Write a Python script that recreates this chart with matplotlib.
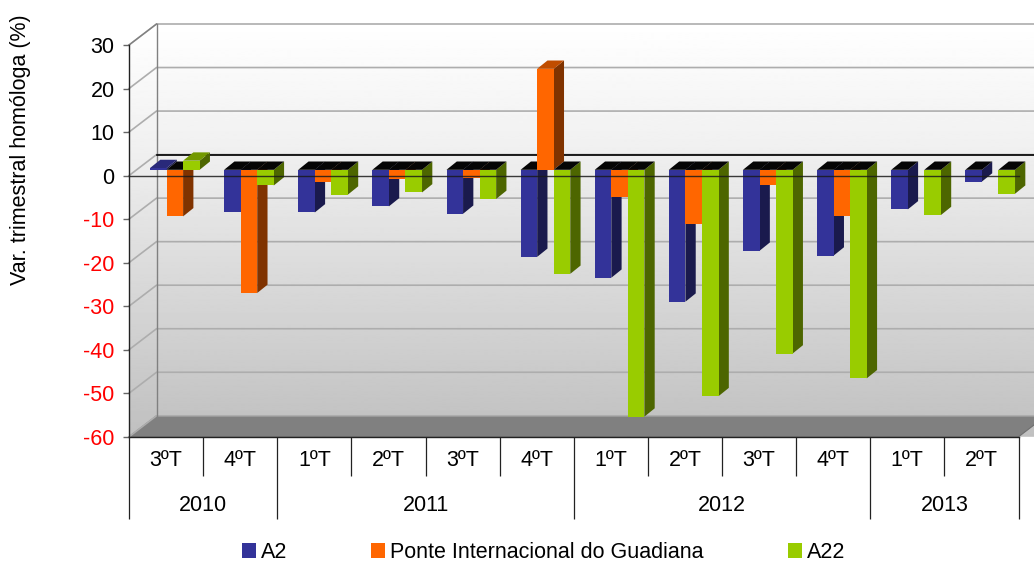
import numpy as np
import matplotlib
matplotlib.use("Agg")
import matplotlib.pyplot as plt
from matplotlib.patches import Polygon

plt.rcParams['font.family'] = ['Liberation Sans', 'DejaVu Sans']

quarters = ['3ºT', '4ºT', '1ºT', '2ºT', '3ºT', '4ºT', '1ºT', '2ºT', '3ºT', '4ºT', '1ºT', '2ºT']
years = ['2010', '2011', '2012', '2013']
year_counts = [2, 4, 4, 2]
a2 = [0.4, -9.6, -9.8, -8.4, -10.1, -20.0, -24.8, -30.3, -18.6, -19.7, -9.1, -2.7]
ponte = [-10.7, -28.3, -2.9, -2.1, -1.9, 23.2, -6.2, -12.4, -3.5, -10.6, np.nan, np.nan]
a22 = [2.1, -3.6, -5.7, -5.2, -6.7, -23.9, -56.7, -52.0, -42.2, -47.9, -10.4, -5.5]
series_names = ['A2', 'Ponte Internacional do Guadiana', 'A22']
front_colors = ['#333399', '#FF6600', '#99CC00']
side_colors = ['#1A1A4D', '#803300', '#4D6600']
top_colors = ['#29297A', '#C04D00', '#739900']

W, H = 1034, 561
FS = 15.5
fig = plt.figure(figsize=(W / 100, H / 100), dpi=100, facecolor='white')
L, R, T, B = 129.0, 1018.5, 45.0, 436.8
ax = fig.add_axes([L / W, 1 - B / H, (R - L) / W, (B - T) / H])
ax.set_xlim(0, 12)
ax.set_ylim(-60, 30)
ax.patch.set_visible(False)

ux = (R - L) / 12          # px per category
uy = (B - T) / 90          # px per percent
DX, DY = 27.5 / ux, 21.0 / uy   # wall depth in data units


def px(p):
    return (p - L) / ux


# walls
grad = np.interp(np.linspace(0, 1, 400), [0, 0.3, 0.55, 1], [255, 240, 222, 192])[:, None]
extent = (0, 12 + DX + 1, -60, 30 + DY)
wall = ax.imshow(grad, extent=extent, aspect='auto', cmap='gray', vmin=0, vmax=255,
                 zorder=0, interpolation='bilinear')
wall.set_clip_path(Polygon([(0, -60), (0, 30), (DX, 30 + DY), (14, 30 + DY), (14, -60)],
                           transform=ax.transData))
wall.set_clip_box(fig.bbox)
ax.set_xlim(0, 12)
ax.set_ylim(-60, 30)

# floor
ax.add_patch(Polygon([(0, -60), (DX, -60 + DY), (12 + DX, -60 + DY), (12, -60)],
                     facecolor='#808080', edgecolor='#6e6e6e', lw=0.8, zorder=1, clip_on=False))

# gridlines
for v in np.arange(-60, 31, 10):
    ax.plot([0, DX, 12 + DX], [v, v + DY, v + DY], color='#ADADAD', lw=1.2, zorder=1, clip_on=False,
            solid_joinstyle='miter')
ax.plot([DX, DX], [-60 + DY, 30 + DY], color='#808080', lw=1.0, zorder=1, clip_on=False)
ax.plot([0, DX], [30, 30 + DY], color='#808080', lw=1.0, zorder=1, clip_on=False)
ax.plot([DX, 12 + DX], [DY, DY], color='black', lw=1.2, zorder=2, clip_on=False)

# bars
bar_w = 16.55 / ux
start = px(150.0)
y0 = (175.5 - 169.7) / uy
ddx, ddy = 10.3 / ux, 8.3 / uy
for i in range(12):
    for s, vals in enumerate([a2, ponte, a22]):
        v = vals[i]
        if np.isnan(v):
            continue
        x0 = i + start + s * bar_w
        x1 = x0 + bar_w
        lo, hi = y0 + min(v, 0), y0 + max(v, 0)
        z = 3 + 0.01 * (i * 3 + s)
        ax.add_patch(Polygon([(x1, lo), (x1 + ddx, lo + ddy), (x1 + ddx, hi + ddy), (x1, hi)],
                             facecolor=side_colors[s], edgecolor='none', zorder=z, clip_on=False))
        ax.add_patch(Polygon([(x0, hi), (x0 + ddx, hi + ddy), (x1 + ddx, hi + ddy), (x1, hi)],
                             facecolor=top_colors[s] if v > 0 else '#050505',
                             edgecolor='none', zorder=z, clip_on=False))
        ax.bar(x0, v, bar_w, bottom=y0, align='edge', color=front_colors[s], zorder=z + 0.001,
               clip_on=False, linewidth=0)

# front zero line
ax.plot([0, 12], [0, 0], color='#1a1a1a', lw=1.0, zorder=6, clip_on=False, alpha=0.85)

# axes
for side in ['top', 'right']:
    ax.spines[side].set_visible(False)
for side in ['left', 'bottom']:
    ax.spines[side].set_linewidth(1.0)
    ax.spines[side].set_color('#222222')
    ax.spines[side].set_zorder(7)

yt = np.arange(-60, 31, 10)
ax.set_yticks(yt)
ax.set_yticklabels([str(v) for v in yt], fontsize=FS)
ax.tick_params(axis='y', length=4.3, width=1.0, color='#666666', pad=6)
for lab, v in zip(ax.get_yticklabels(), yt):
    lab.set_color('#FF0000' if v < 0 else 'black')

bounds = np.cumsum([0] + year_counts)
ax.set_xticks(bounds)
ax.set_xticklabels([])
ax.set_xticks(np.arange(13), minor=True)
ax.tick_params(axis='x', which='major', length=59, width=0.9, color='#222222')
ax.tick_params(axis='x', which='minor', length=28, width=0.9, color='#222222')

trans = ax.get_xaxis_transform()
for i, q in enumerate(quarters):
    ax.text(i + 0.5, -(460.5 - B) / (B - T), q, transform=trans, ha='center', va='center',
            fontsize=FS, color='black')
for j, y in enumerate(years):
    ax.text((bounds[j] + bounds[j + 1]) / 2, -(505 - B) / (B - T), y, transform=trans,
            ha='center', va='center', fontsize=FS, color='black')

fig.text(21 / W, 1 - 149.5 / H, 'Var. trimestral homóloga (%)', rotation=90, ha='center', va='center',
         fontsize=FS, color='black')

# legend
proxy = [ax.bar(0, 0, 0, color=c, label=n) for c, n in zip(front_colors, series_names)]
leg = fig.legend(handles=[p[0] for p in proxy], labels=series_names, ncol=3, frameon=False,
                 loc='lower left', bbox_to_anchor=(242 / W, 1 - 563 / H), fontsize=FS,
                 borderpad=0, borderaxespad=0, handlelength=0.65, handleheight=0.65,
                 handletextpad=0.23, columnspacing=3.9, labelspacing=0)

fig.savefig('out.png', dpi=100, facecolor='white')
